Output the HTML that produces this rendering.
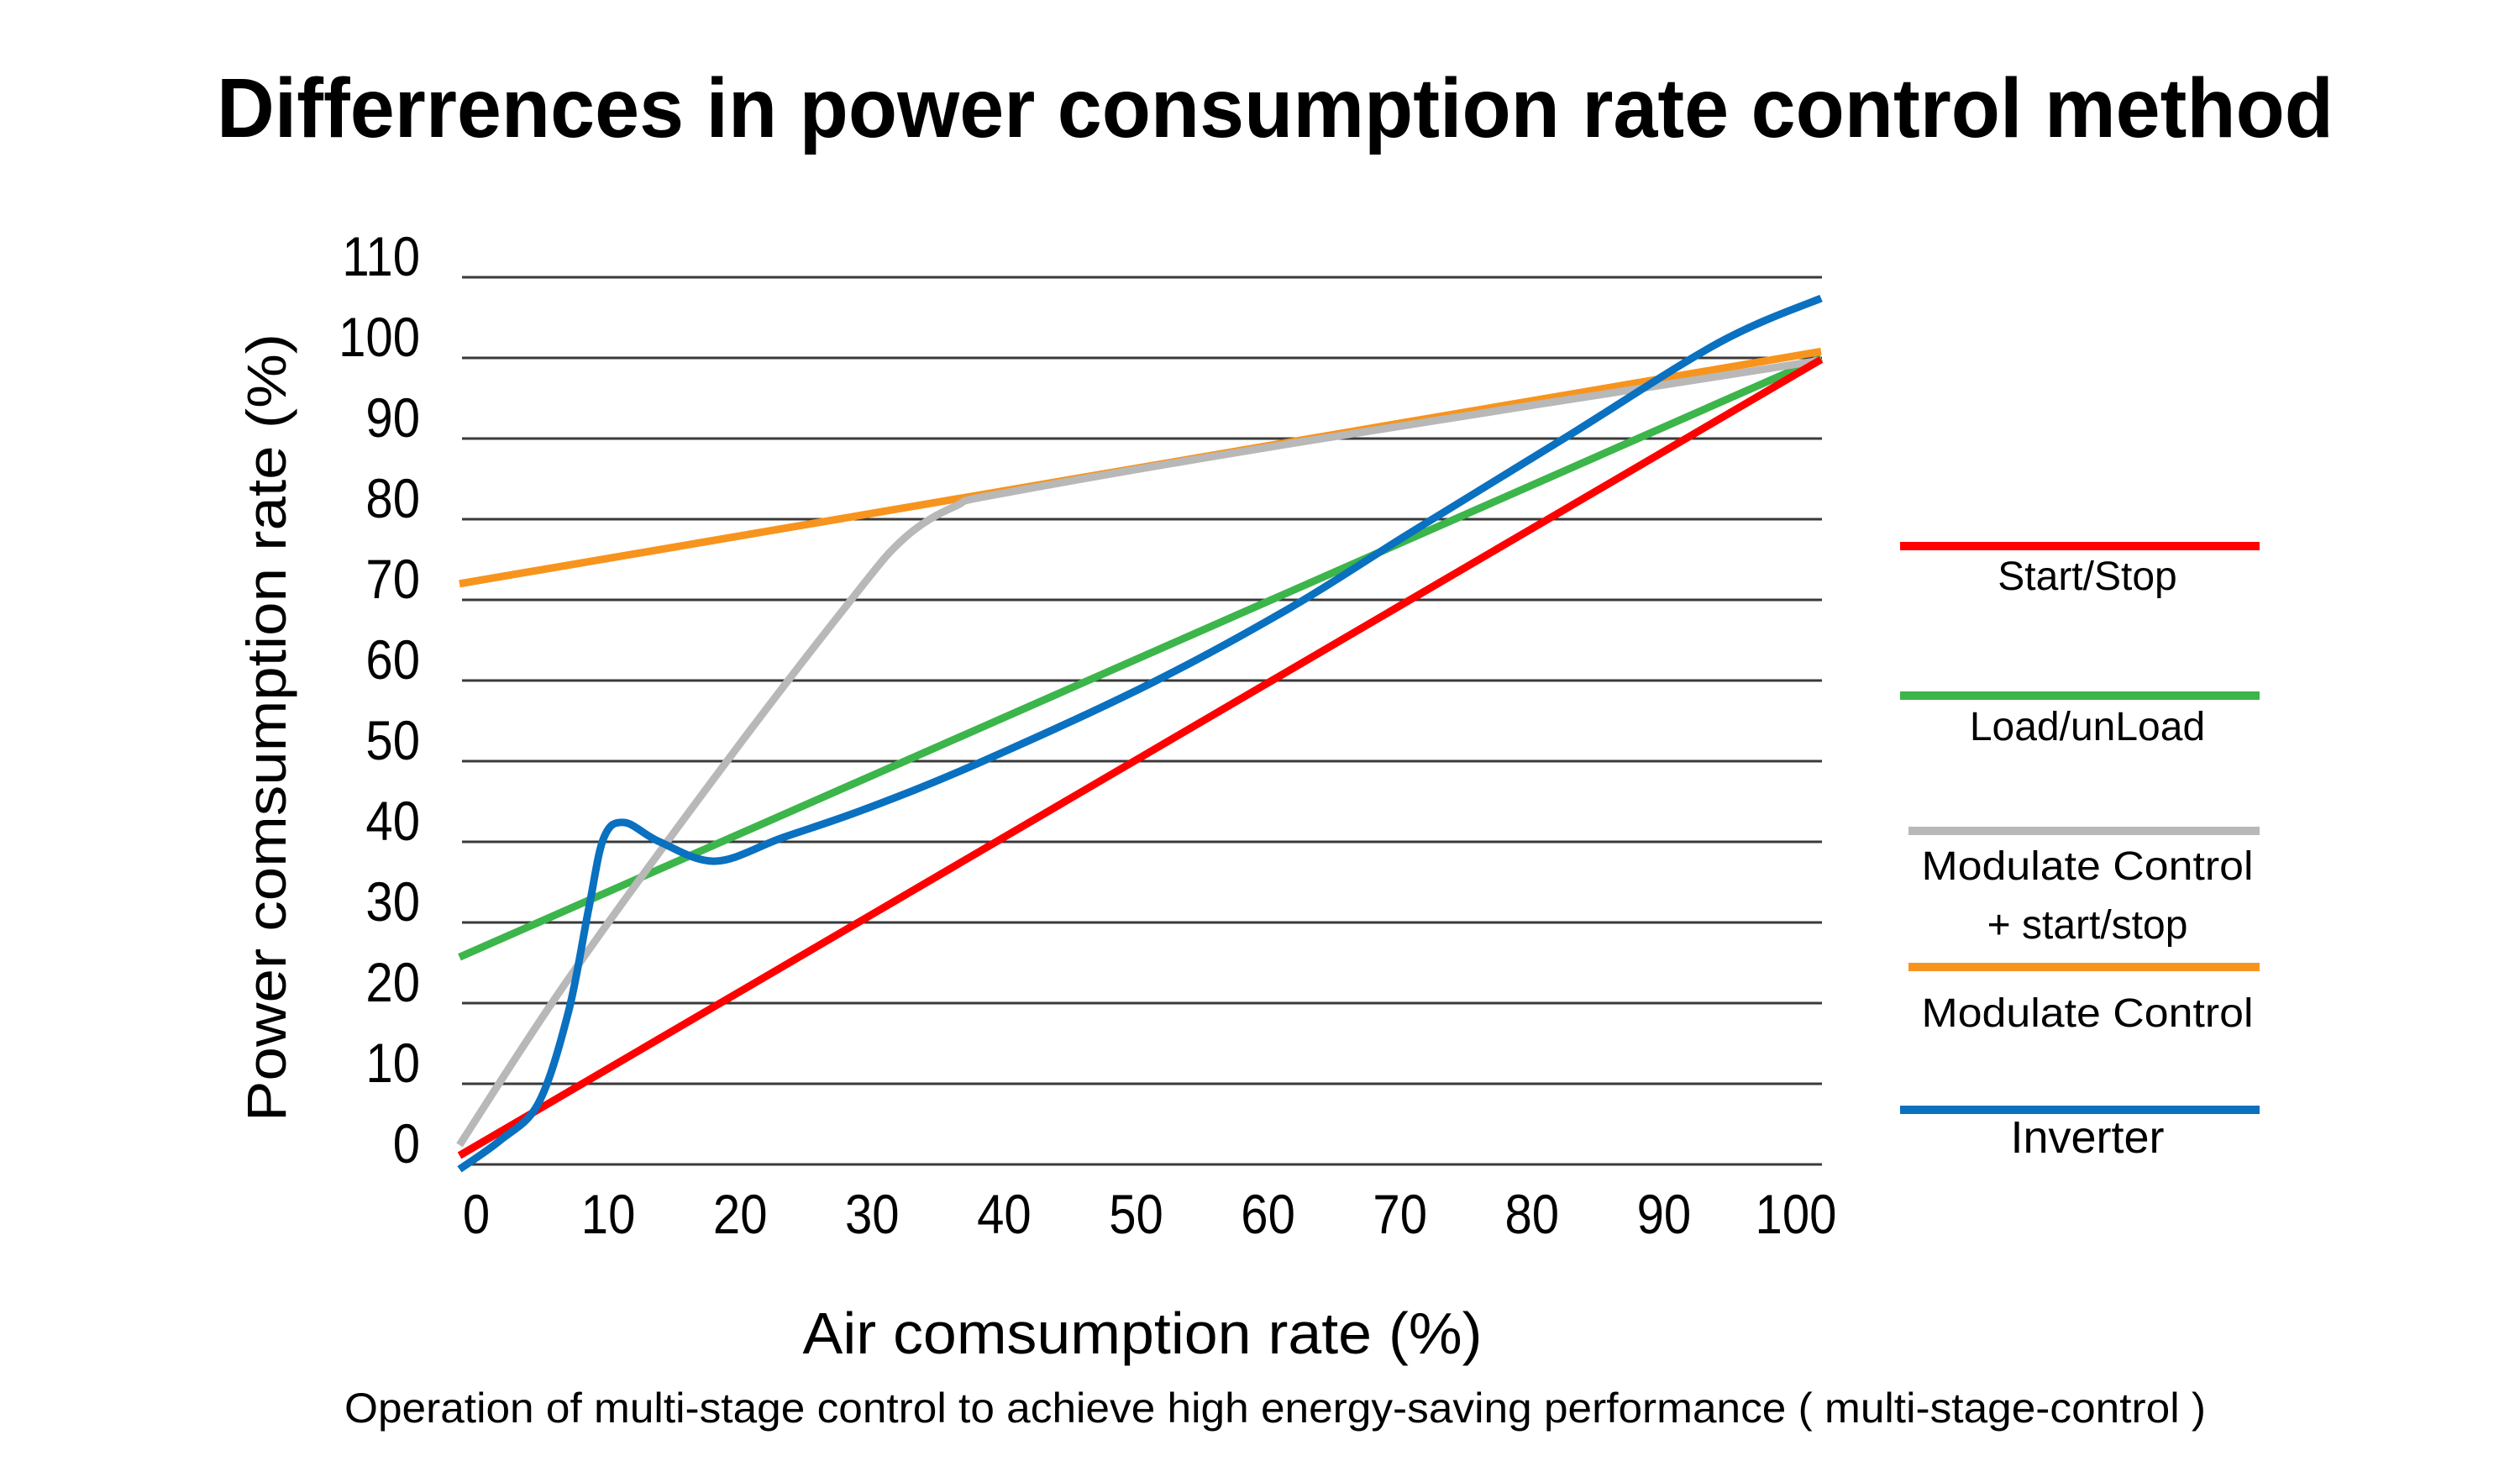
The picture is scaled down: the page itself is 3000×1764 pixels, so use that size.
<!DOCTYPE html>
<html><head><meta charset="utf-8"><style>
html,body{margin:0;padding:0;background:#fff;}
svg{display:block;font-family:"Liberation Sans",sans-serif;}
</style></head><body>
<svg id="chart" width="3000" height="1764" viewBox="0 0 3000 1764" xmlns="http://www.w3.org/2000/svg">
<text x="258" y="163" font-size="100" font-weight="bold" textLength="2520" lengthAdjust="spacingAndGlyphs">Differrences in power consumption rate control method</text>
<text transform="translate(340,866) rotate(-90)" text-anchor="middle" font-size="66" textLength="938" lengthAdjust="spacingAndGlyphs">Power comsumption rate (%)</text>
<text x="1360" y="1611" text-anchor="middle" font-size="70" textLength="809" lengthAdjust="spacingAndGlyphs">Air comsumption rate (%)</text>
<text x="1518" y="1693" text-anchor="middle" font-size="50" textLength="2216" lengthAdjust="spacingAndGlyphs">Operation of multi-stage control to achieve high energy-saving performance ( multi-stage-control )</text>
<g id="grid"></g>
<g id="ylabels"></g>
<g id="xlabels"></g>
<g id="series"></g>
<g font-size="48" text-anchor="middle">
<line x1="2262" y1="650" x2="2690" y2="650" stroke="#ff0000" stroke-width="10"/>
<text x="2485" y="702">Start/Stop</text>
<line x1="2262" y1="828" x2="2690" y2="828" stroke="#3cb54a" stroke-width="10"/>
<text x="2485" y="881">Load/unLoad</text>
<line x1="2272" y1="989" x2="2690" y2="989" stroke="#b8b8b8" stroke-width="10"/>
<text x="2485" y="1047" textLength="395" lengthAdjust="spacingAndGlyphs">Modulate Control</text>
<text x="2485" y="1117">+ start/stop</text>
<line x1="2272" y1="1151" x2="2690" y2="1151" stroke="#f7941d" stroke-width="10"/>
<text x="2485" y="1222" textLength="395" lengthAdjust="spacingAndGlyphs">Modulate Control</text>
<line x1="2262" y1="1321" x2="2690" y2="1321" stroke="#0a70c0" stroke-width="10"/>
<text x="2485" y="1372" font-size="54">Inverter</text>
</g>
</svg>
<script>
const yTicks = [0,10,20,30,40,50,60,70,80,90,100,110];
const xTicks = [0,10,20,30,40,50,60,70,80,90,100];
const redX = [0,100];           const redY = [1.1,99.8];
const greenX = [0,100];         const greenY = [25.7,100];
const orangeX = [0,100];        const orangeY = [72,100.8];
const grayX = [0,8,19.2,28.9,32.7,36.4,40.2,62.6,100];
const grayY = [2.4,23,49,70.3,77.7,81.6,83.3,89.8,99.7];
const blueX = [0,3,5.8,8,9.5,10.6,12.1,14.7,18.8,23.7,29.7,37.9,50.6,61,70,81.3,92.5,100];
const blueY = [-0.6,3,7.6,18.9,31.8,40.5,42.4,40,37.6,40.5,44,49.6,59.5,69,78.5,90.2,101.9,107.4];

const NS='http://www.w3.org/2000/svg';
const X0=547,X1=2168,Y0=1386,Y110=330;
function xs(v){return X0+(X1-X0)*v/100;}
function ys(v){return Y0-(Y0-Y110)*v/110;}
function xl(v){return 567+15.71*v;}

const grid=document.getElementById('grid'),yl=document.getElementById('ylabels'),xlg=document.getElementById('xlabels'),ser=document.getElementById('series');
yTicks.forEach(t=>{
  const l=document.createElementNS(NS,'line');
  
  
  l.setAttribute('x1',550);l.setAttribute('x2',2169);
  l.setAttribute('y1',ys(t));l.setAttribute('y2',ys(t));
  l.setAttribute('stroke','#3a3a3a');l.setAttribute('stroke-width','3');
  grid.appendChild(l);
  const tx=document.createElementNS(NS,'text');
  
  
  tx.setAttribute('transform','translate(500,'+(ys(t)-2)+') scale(0.88,1)');
  tx.setAttribute('text-anchor','end');tx.setAttribute('font-size','66');
  tx.textContent=t;yl.appendChild(tx);
});
xTicks.forEach(t=>{
  const tx=document.createElementNS(NS,'text');
  
  
  tx.setAttribute('transform','translate('+xl(t)+',1468) scale(0.88,1)');
  tx.setAttribute('text-anchor','middle');tx.setAttribute('font-size','66');
  tx.textContent=t;xlg.appendChild(tx);
});
function pathFor(X,Y,smooth){
  const p=X.map((x,i)=>[xs(x),ys(Y[i])]);
  let d='M'+p[0][0]+','+p[0][1];
  if(!smooth){for(let i=1;i<p.length;i++)d+=' L'+p[i][0]+','+p[i][1];return d;}
  for(let i=0;i<p.length-1;i++){
    const a=p[Math.max(0,i-1)],b=p[i],c=p[i+1],e=p[Math.min(p.length-1,i+2)];
    const c1=[b[0]+(c[0]-a[0])/6,b[1]+(c[1]-a[1])/6],c2=[c[0]-(e[0]-b[0])/6,c[1]-(e[1]-b[1])/6];
    d+=' C'+c1[0]+','+c1[1]+' '+c2[0]+','+c2[1]+' '+c[0]+','+c[1];
  }
  return d;
}
function addSeries(name,X,Y,color,smooth){
  const p=document.createElementNS(NS,'path');
  
  
  p.setAttribute('d',pathFor(X,Y,smooth));
  p.setAttribute('fill','none');p.setAttribute('stroke',color);p.setAttribute('stroke-width','9');
  ser.appendChild(p);
}
addSeries('line-load-unload',greenX,greenY,'#3cb54a',false);
addSeries('line-modulate-control',orangeX,orangeY,'#f7941d',false);
addSeries('line-modulate-start-stop',grayX,grayY,'#b8b8b8',true);
addSeries('line-start-stop',redX,redY,'#ff0000',false);
addSeries('line-inverter',blueX,blueY,'#0a70c0',true);
</script>
</body></html>
